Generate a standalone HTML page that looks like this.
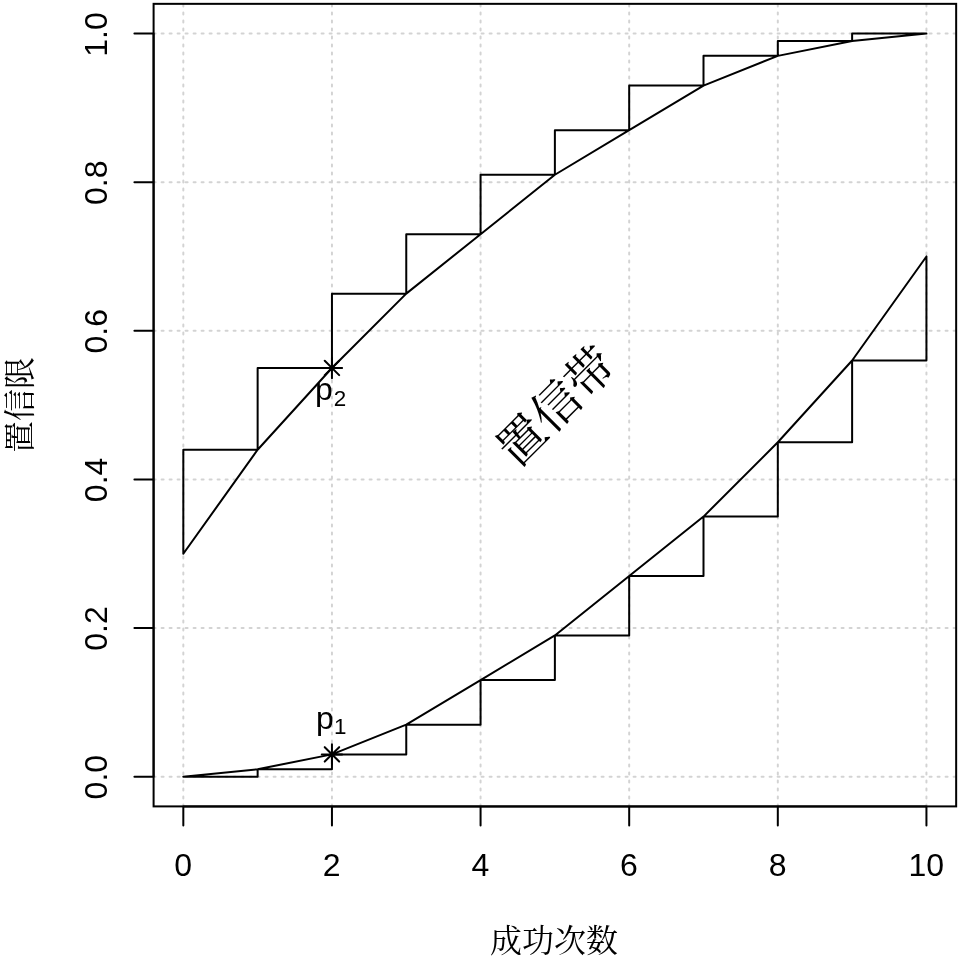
<!DOCTYPE html><html><head><meta charset="utf-8"><style>html,body{margin:0;padding:0;background:#fff;width:960px;height:960px;overflow:hidden}svg{display:block;filter:grayscale(1)}.n{font-family:"Liberation Sans",sans-serif;font-size:32px}.c{font-family:"Liberation Serif","Noto Serif CJK JP",serif;font-size:32px}</style></head><body>
<svg width="960" height="960" viewBox="0 0 960 960">
<path d="M183.32 806.40V3.84M331.95 806.40V3.84M480.57 806.40V3.84M629.19 806.40V3.84M777.81 806.40V3.84M926.44 806.40V3.84M153.60 776.68H956.16M153.60 628.05H956.16M153.60 479.43H956.16M153.60 330.81H956.16M153.60 182.19H956.16M153.60 33.56H956.16" stroke="#d3d3d3" stroke-width="2" stroke-dasharray="2 6" stroke-linecap="round" fill="none"/>
<path d="M183.32 553.74 L257.64 449.71 L331.95 367.96 L406.26 293.65 L480.57 234.20 L554.88 174.76 L629.19 130.17 L703.50 85.58 L777.81 55.86 L852.12 41.00 L926.44 33.56 M183.32 553.74 L183.32 449.71 L257.64 449.71 L257.64 367.96 L331.95 367.96 L331.95 293.65 L406.26 293.65 L406.26 234.20 L480.57 234.20 L480.57 174.76 L554.88 174.76 L554.88 130.17 L629.19 130.17 L629.19 85.58 L703.50 85.58 L703.50 55.86 L777.81 55.86 L777.81 41.00 L852.12 41.00 L852.12 33.56 L926.44 33.56 M183.32 776.68 L257.64 769.24 L331.95 754.38 L406.26 724.66 L480.57 680.07 L554.88 635.48 L629.19 576.04 L703.50 516.59 L777.81 442.28 L852.12 360.53 L926.44 256.50 M183.32 776.68 L257.64 776.68 L257.64 769.24 L331.95 769.24 L331.95 754.38 L406.26 754.38 L406.26 724.66 L480.57 724.66 L480.57 680.07 L554.88 680.07 L554.88 635.48 L629.19 635.48 L629.19 576.04 L703.50 576.04 L703.50 516.59 L777.81 516.59 L777.81 442.28 L852.12 442.28 L852.12 360.53 L926.44 360.53 L926.44 256.50" stroke="#000" stroke-width="2" fill="none" stroke-linejoin="round" stroke-linecap="round"/>
<path d="M321.76 367.96H342.13M331.95 357.78V378.15M324.75 360.76L339.15 375.16M324.75 375.16L339.15 360.76M321.76 754.38H342.13M331.95 744.20V764.56M324.75 747.18L339.15 761.58M324.75 761.58L339.15 747.18" stroke="#000" stroke-width="2" fill="none" stroke-linecap="round"/>
<rect x="153.60" y="3.84" width="802.56" height="802.56" stroke="#000" stroke-width="2" fill="none"/>
<path d="M183.32 806.40H926.44M153.60 776.68V33.56M183.32 806.40V825.60M331.95 806.40V825.60M480.57 806.40V825.60M629.19 806.40V825.60M777.81 806.40V825.60M926.44 806.40V825.60M153.60 776.68H134.40M153.60 628.05H134.40M153.60 479.43H134.40M153.60 330.81H134.40M153.60 182.19H134.40M153.60 33.56H134.40" stroke="#000" stroke-width="2" fill="none" stroke-linecap="round"/>
<text class="n" x="183.12" y="875.7" text-anchor="middle">0</text>
<text class="n" x="331.75" y="875.7" text-anchor="middle">2</text>
<text class="n" x="480.37" y="875.7" text-anchor="middle">4</text>
<text class="n" x="628.99" y="875.7" text-anchor="middle">6</text>
<text class="n" x="777.61" y="875.7" text-anchor="middle">8</text>
<text class="n" x="926.24" y="875.7" text-anchor="middle">10</text>
<text class="n" transform="translate(107.2 777.18) rotate(-90)" text-anchor="middle">0.0</text>
<text class="n" transform="translate(107.2 628.55) rotate(-90)" text-anchor="middle">0.2</text>
<text class="n" transform="translate(107.2 479.93) rotate(-90)" text-anchor="middle">0.4</text>
<text class="n" transform="translate(107.2 331.31) rotate(-90)" text-anchor="middle">0.6</text>
<text class="n" transform="translate(107.2 182.69) rotate(-90)" text-anchor="middle">0.8</text>
<text class="n" transform="translate(107.2 34.56) rotate(-90)" text-anchor="middle">1.0</text>
<text class="c" x="553.98" y="952.3" text-anchor="middle">成功次数</text>
<text class="c" transform="translate(30.7 405.12) rotate(-90)" text-anchor="middle">置信限</text>
<text class="c" style="font-size:48px" transform="translate(556.18 406.22) rotate(-45)" text-anchor="middle" dy="0.35em">置信带</text>
<text class="n" x="331.15" y="729" text-anchor="middle">p<tspan font-size="22.4" dx="0.3" dy="5">1</tspan></text>
<text class="n" x="330.55" y="400.3" text-anchor="middle">p<tspan font-size="22.4" dx="0.9" dy="6">2</tspan></text>
</svg></body></html>
